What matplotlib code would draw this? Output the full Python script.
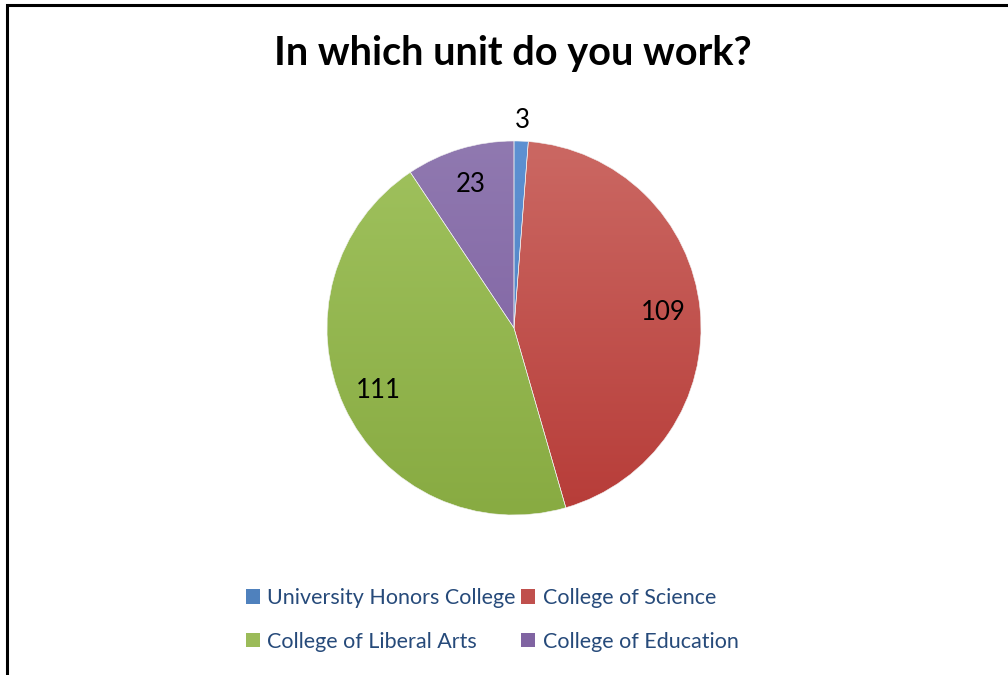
import numpy as np
import matplotlib.pyplot as plt
from matplotlib.colors import LinearSegmentedColormap
from matplotlib.patches import Rectangle

units = ["University Honors College", "College of Science",
         "College of Liberal Arts", "College of Education"]
counts = [3, 109, 111, 23]
# light (top) / dark (bottom) shade for each slice
top_colors = ["#5D91D2", "#CB6863", "#A0C25E", "#9079B0"]
bottom_colors = ["#4A7DBE", "#B73C38", "#88AB42", "#7A5B9E"]
legend_colors = ["#4F81BD", "#C0504D", "#9BBB59", "#8064A2"]

plt.rcParams['font.family'] = ['Lato', 'DejaVu Sans']

fig = plt.figure(figsize=(10.08, 6.75), dpi=100)

# frame around the chart (right and bottom edges fall off the page)
fig.patches.append(Rectangle((7/1008, -0.05), 1.1, (675-4.5)/675 + 0.05,
                             transform=fig.transFigure, fill=False,
                             edgecolor="black", linewidth=2.2))

fig.text(513/1008, 1 - 53/675, "In which unit do you work?", ha="center",
         va="center", fontsize=28.5, fontweight="bold", color="black")

cx, cy, R = 514, 328, 187
ax = fig.add_axes([(cx-R)/1008, (675-cy-R)/675, 2*R/1008, 2*R/675])

wedges, _ = ax.pie(counts, startangle=90, counterclock=False, radius=1,
                   colors=legend_colors,
                   wedgeprops=dict(linewidth=0.4, edgecolor="#F2F2F2"))

grad = np.linspace(0, 1, 256).reshape(-1, 1)
for w, c1, c2 in zip(wedges, top_colors, bottom_colors):
    cmap = LinearSegmentedColormap.from_list("g", [c1, c2])
    im = ax.imshow(grad, cmap=cmap, extent=[-1, 1, -1, 1], origin="upper",
                   aspect="auto", zorder=w.get_zorder() + 0.1)
    im.set_clip_path(w)
    w.set_facecolor("none")
    w.set_zorder(w.get_zorder() + 0.2)
ax.set_xlim(-1, 1)
ax.set_ylim(-1, 1)
ax.set_aspect("equal")
ax.axis("off")

total = sum(counts)
start = 90.0
for n in counts:
    sweep = n / total * 360
    mid = np.deg2rad(start - sweep / 2)
    r = 1.11 if n / total < 0.05 else 0.80
    ax.text(r*np.cos(mid), r*np.sin(mid), str(n), ha="center", va="center",
            fontsize=18.5, color="black", zorder=10, clip_on=False)
    start -= sweep

# legend, two rows filled left to right
handles = [Rectangle((0, 0), 1, 1, facecolor=c) for c in legend_colors]
order = [0, 2, 1, 3]
fig.legend([handles[i] for i in order], [units[i] for i in order],
           loc="center", bbox_to_anchor=(492/1008, 1 - 620/675),
           ncol=2, frameon=False, fontsize=15.5, labelcolor="#264A7A",
           handlelength=0.65, handleheight=0.65, handletextpad=0.35,
           columnspacing=0.25, labelspacing=1.1)

fig.savefig("out.png", dpi=100)
